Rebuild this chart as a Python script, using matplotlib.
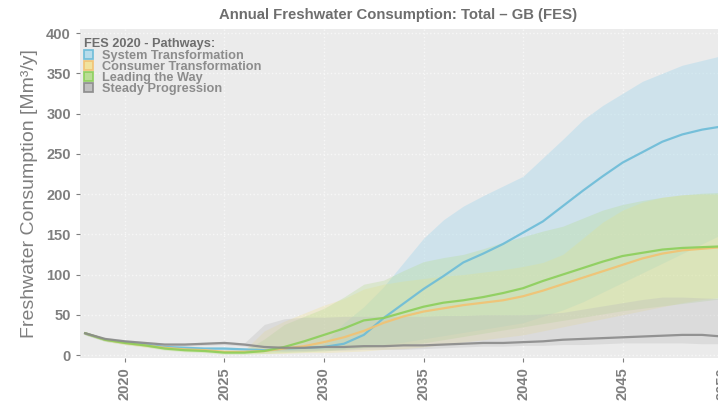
import matplotlib
matplotlib.use("Agg")
import matplotlib.pyplot as plt
from matplotlib.patches import Patch

plt.rcParams['font.family'] = ['Liberation Sans', 'DejaVu Sans']

years = list(range(2018, 2051))

pathways = ["System Transformation", "Consumer Transformation",
            "Leading the Way", "Steady Progression"]

# central estimate per pathway [Mm3/y]
st_mid = [27, 19, 16, 13, 10, 9, 8, 8, 7, 6, 8, 9, 10, 14, 25, 46, 64,
          82, 98, 115, 126, 138, 152, 166, 185, 204, 222, 239, 252, 265, 274, 280, 284]
ct_mid = [27, 19, 15, 12, 9, 7, 6, 4, 4, 5, 8, 11, 16, 22, 30, 40, 48,
          54, 58, 62, 65, 68, 73, 80, 88, 96, 104, 112, 120, 126, 130, 132, 134]
lw_mid = [27, 19, 15, 12, 8, 6, 5, 3, 3, 5, 10, 17, 25, 33, 43, 46, 53,
          60, 65, 68, 72, 77, 83, 92, 100, 108, 116, 123, 127, 131, 133, 134, 135]
sp_mid = [27, 20, 17, 15, 13, 13, 14, 15, 13, 10, 9, 9, 10, 10, 11, 11, 12,
          12, 13, 14, 15, 15, 16, 17, 19, 20, 21, 22, 23, 24, 25, 25, 23]

# uncertainty range per pathway
st_low = [25, 17, 14, 11, 8, 7, 6, 6, 5, 4, 5, 6, 7, 8, 10, 13, 16,
          20, 24, 28, 32, 36, 40, 48, 56, 66, 78, 90, 102, 114, 126, 138, 150]
st_high = [29, 21, 18, 15, 12, 11, 10, 10, 9, 8, 10, 12, 14, 40, 60, 85, 115,
           145, 168, 185, 198, 210, 222, 245, 268, 292, 310, 325, 340, 350, 360, 366, 372]
ct_low = [25, 17, 13, 10, 7, 5, 4, 2, 2, 2, 2, 3, 3, 4, 5, 7, 8,
          10, 13, 16, 19, 22, 25, 30, 35, 40, 45, 50, 55, 60, 65, 69, 72]
ct_high = [29, 21, 17, 14, 11, 9, 8, 6, 6, 30, 42, 52, 62, 70, 82, 88, 92,
           95, 98, 100, 103, 106, 110, 115, 125, 145, 165, 180, 190, 196, 199, 200, 200]
lw_low = [25, 17, 13, 10, 6, 4, 3, 1, 1, 2, 3, 4, 5, 7, 9, 11, 13,
          15, 19, 23, 27, 31, 35, 39, 43, 47, 51, 55, 58, 61, 64, 67, 70]
lw_high = [29, 21, 17, 14, 10, 8, 7, 5, 5, 20, 38, 48, 58, 72, 88, 93, 105,
           116, 121, 125, 132, 140, 147, 154, 160, 170, 180, 187, 192, 196, 199, 201, 202]
sp_low = [25, 18, 15, 13, 11, 11, 12, 13, 11, 6, 5, 5, 6, 6, 7, 7, 7,
          8, 9, 10, 11, 11, 12, 12, 13, 13, 14, 15, 15, 15, 15, 14, 14]
sp_high = [29, 22, 19, 17, 15, 15, 16, 17, 15, 38, 45, 47, 47, 48, 48, 48, 48,
           48, 49, 49, 50, 50, 50, 51, 53, 57, 61, 65, 69, 72, 72, 71, 70]

mids = [st_mid, ct_mid, lw_mid, sp_mid]
lows = [st_low, ct_low, lw_low, sp_low]
highs = [st_high, ct_high, lw_high, sp_high]

line_cols = ['#6cbcd8', '#f2c272', '#8ccf5a', '#8a8a8a']
fill_cols = ['#b2dbeb', '#f2e296', '#b4dc8c', '#bcbcbc']
fill_alpha = [0.5, 0.33, 0.3, 0.33]

txt_col = '#7f7f7f'

fig = plt.figure(figsize=(7.18, 4.04), dpi=100)
ax = fig.add_axes([80 / 718, 46 / 404, 650 / 718, 329 / 404])
ax.set_facecolor('#ebebeb')

for i in range(len(pathways)):
    ax.fill_between(years, lows[i], highs[i], color=fill_cols[i],
                    alpha=fill_alpha[i], linewidth=0)
for i in range(len(pathways)):
    ax.plot(years, mids[i], color=line_cols[i], linewidth=1.6, alpha=0.9)

ax.set_xlim(2017.74, 2050.4)
ax.set_ylim(-3.7, 405)
ax.set_yticks(range(0, 401, 50))
ax.set_xticks(range(2020, 2051, 5))
ax.grid(True, color='#f7f7f7', linestyle=':', linewidth=1.0)
ax.set_axisbelow(True)
for s in ax.spines.values():
    s.set_visible(False)

ax.tick_params(colors=txt_col, length=3, width=0.8, labelsize=10.5)
for lab in ax.get_yticklabels():
    lab.set_fontweight('bold')
for lab in ax.get_xticklabels():
    lab.set_fontweight('bold')
    lab.set_rotation(90)

ax.set_ylabel('Freshwater Consumption [Mm\u00b3/y]', color=txt_col,
              fontsize=14, labelpad=6)
ax.set_title('Annual Freshwater Consumption: Total \u2013 GB (FES)',
             color='#6e6e6e', fontsize=10.7, fontweight='bold', pad=7,
             x=(398 - 80) / 650)

handles = [Patch(facecolor=fill_cols[i], edgecolor=line_cols[i], linewidth=1.3,
                 alpha=0.9) for i in range(len(pathways))]
leg = ax.legend(handles, pathways, title='FES 2020 - Pathways:', loc='upper left',
                bbox_to_anchor=(0.0, 0.985), frameon=False, fontsize=9.2,
                title_fontsize=9.2, labelspacing=-0.07, handlelength=0.7,
                handleheight=0.7, handletextpad=0.7, borderpad=0.15,
                borderaxespad=0.2, alignment='left')
leg.get_title().set_fontweight('bold')
leg.get_title().set_color('#6e6e6e')
for t in leg.get_texts():
    t.set_fontweight('bold')
    t.set_color('#8c8c8c')

fig.savefig('out.png', dpi=100)
